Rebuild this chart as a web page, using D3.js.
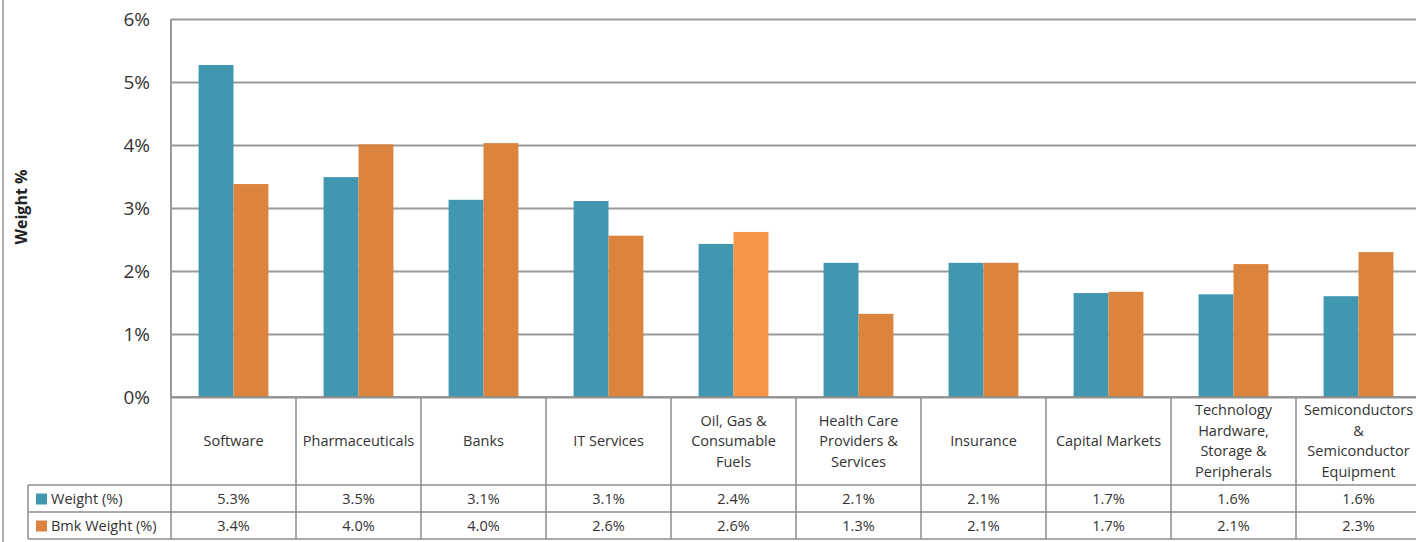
<!DOCTYPE html>
<html>
<head>
<meta charset="utf-8">
<script src="https://cdn.jsdelivr.net/npm/d3@7"></script>
<style>
  body { margin: 0; background: #fff; }
  svg { display: block; font-family: "Open Sans", "Noto Sans", sans-serif; }
</style>
</head>
<body>
<svg id="chart" width="1416" height="542"></svg>
<script>
// industries, as labels (line breaks as in the picture)
const categories = [
  ['Software'],
  ['Pharmaceuticals'],
  ['Banks'],
  ['IT Services'],
  ['Oil, Gas &', 'Consumable', 'Fuels'],
  ['Health Care', 'Providers &', 'Services'],
  ['Insurance'],
  ['Capital Markets'],
  ['Technology', 'Hardware,', 'Storage &', 'Peripherals'],
  ['Semiconductors', '&', 'Semiconductor', 'Equipment']
];
const weight = [5.27, 3.49, 3.13, 3.11, 2.43, 2.13, 2.13, 1.65, 1.63, 1.60];
const bmkWeight = [3.38, 4.01, 4.03, 2.56, 2.62, 1.32, 2.13, 1.67, 2.11, 2.30];
const weightLabels = ['5.3%', '3.5%', '3.1%', '3.1%', '2.4%', '2.1%', '2.1%', '1.7%', '1.6%', '1.6%'];
const bmkLabels = ['3.4%', '4.0%', '4.0%', '2.6%', '2.6%', '1.3%', '2.1%', '1.7%', '2.1%', '2.3%'];
const seriesNames = ['Weight (%)', 'Bmk Weight (%)'];
const yTicks = [0, 1, 2, 3, 4, 5, 6];

const TEAL = '#4197b0';
const ORANGE = '#dc843e';
const ORANGE_LIGHT = '#f79646';
const GRID = '#9a9a9a';
const TXT = '#333';

const svg = d3.select('#chart');
const plot = { left: 171, right: 1421, top: 19, bottom: 397 };
const rowCat = { top: 397, bottom: 485 };
const rowW = { top: 485, bottom: 512 };
const rowB = { top: 512, bottom: 539 };
const tableLeft = 28;

const x = d3.scaleBand()
  .domain(d3.range(categories.length))
  .range([plot.left, plot.right]);
const x1 = d3.scaleBand()
  .domain([0, 1])
  .range([0, x.bandwidth()])
  .paddingOuter(0.79);
const y = d3.scaleLinear().domain([0, 6]).range([plot.bottom, plot.top]);

// outer left border
svg.append('line')
  .attr('x1', 3).attr('x2', 3).attr('y1', 0).attr('y2', 542)
  .attr('stroke', '#b0b0b0').attr('stroke-width', 2);

// gridlines + y axis labels
const yAxis = d3.axisLeft(y)
  .tickValues(yTicks)
  .tickFormat(d => d + '%')
  .tickSize(-(plot.right - plot.left))
  .tickPadding(21);
const gy = svg.append('g')
  .attr('transform', `translate(${plot.left},0)`)
  .call(yAxis)
  .attr('font-family', null)
  .attr('font-size', null);
gy.select('.domain').remove();
gy.selectAll('.tick line').attr('stroke', GRID).attr('stroke-width', 2);
gy.selectAll('.tick text')
  .attr('fill', TXT)
  .style('font-size', '19px');

// plot left border
svg.append('line')
  .attr('x1', plot.left).attr('x2', plot.left)
  .attr('y1', plot.top).attr('y2', plot.bottom)
  .attr('stroke', GRID).attr('stroke-width', 2);

// y title
svg.append('text')
  .attr('transform', 'translate(27,207) rotate(-90)')
  .attr('text-anchor', 'middle')
  .attr('fill', '#222')
  .style('font-size', '16px')
  .style('font-weight', 'bold')
  .text('Weight %');

// bars
const bars = svg.append('g');
categories.forEach((c, i) => {
  bars.append('rect')
    .attr('x', x(i) + x1(0))
    .attr('y', y(weight[i]))
    .attr('width', x1.bandwidth())
    .attr('height', y(0) - y(weight[i]))
    .attr('fill', TEAL);
  bars.append('rect')
    .attr('x', x(i) + x1(1))
    .attr('y', y(bmkWeight[i]))
    .attr('width', x1.bandwidth())
    .attr('height', y(0) - y(bmkWeight[i]))
    .attr('fill', i === 4 ? ORANGE_LIGHT : ORANGE);
});

// data table
const table = svg.append('g');
const lineStyle = sel => sel.attr('stroke', '#8c8c8c').attr('stroke-width', 1.5);

// horizontal rules
[[plot.left, rowCat.top], [tableLeft, rowW.top], [tableLeft, rowB.top], [tableLeft, rowB.bottom]]
  .forEach(([x0, yy]) => {
    table.append('line')
      .attr('x1', x0).attr('x2', plot.right)
      .attr('y1', yy).attr('y2', yy)
      .call(lineStyle);
  });
// vertical rules
d3.range(categories.length + 1).forEach(i => {
  const xx = i < categories.length ? x(i) : plot.right;
  table.append('line')
    .attr('x1', xx).attr('x2', xx)
    .attr('y1', rowCat.top).attr('y2', rowB.bottom)
    .call(lineStyle);
});
table.append('line')
  .attr('x1', tableLeft).attr('x2', tableLeft)
  .attr('y1', rowW.top).attr('y2', rowB.bottom)
  .call(lineStyle);

// category labels
categories.forEach((lines, i) => {
  const cx = x(i) + x.bandwidth() / 2;
  const lh = 20.5;
  const cy = (rowCat.top + rowCat.bottom) / 2;
  const t = table.append('text')
    .attr('text-anchor', 'middle')
    .attr('fill', TXT)
    .style('font-size', '14.5px');
  lines.forEach((ln, k) => {
    t.append('tspan')
      .attr('x', cx)
      .attr('y', cy + (k - (lines.length - 1) / 2) * lh)
      .attr('dy', '0.35em')
      .text(ln);
  });
});

// value rows
[[rowW, weightLabels, TEAL], [rowB, bmkLabels, ORANGE]].forEach(([row, labels, col], s) => {
  const cy = (row.top + row.bottom) / 2;
  labels.forEach((lab, i) => {
    table.append('text')
      .attr('x', x(i) + x.bandwidth() / 2)
      .attr('y', cy)
      .attr('dy', '0.35em')
      .attr('text-anchor', 'middle')
      .attr('fill', TXT)
      .style('font-size', '14.5px')
      .text(lab);
  });
  table.append('rect')
    .attr('x', 36).attr('y', cy - 5)
    .attr('width', 11).attr('height', 11)
    .attr('fill', col);
  table.append('text')
    .attr('x', 51).attr('y', cy)
    .attr('dy', '0.35em')
    .attr('fill', TXT)
    .style('font-size', '14.5px')
    .text(seriesNames[s]);
});
</script>
</body>
</html>
